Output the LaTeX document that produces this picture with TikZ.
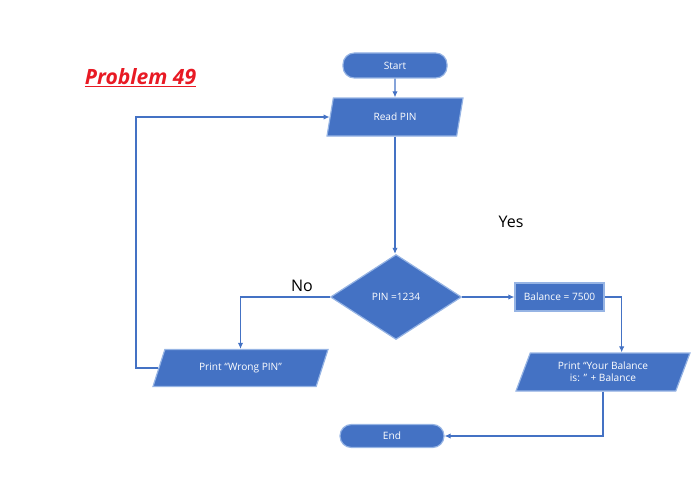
\documentclass[tikz,border=0pt]{standalone}
\usepackage{fontspec}
\setmainfont{Open Sans}
\usetikzlibrary{shapes.geometric,arrows.meta}
\definecolor{boxfill}{RGB}{68,114,196}
\definecolor{boxedge}{RGB}{150,180,228}
\definecolor{conn}{RGB}{68,114,196}
\definecolor{titlered}{RGB}{232,26,36}
\tikzset{
  base/.style={fill=boxfill,draw=boxedge,line width=0.9pt,text=white,font=\fontsize{7.6}{9}\selectfont,align=center,inner sep=1pt},
  term/.style={base,rectangle,rounded corners=8.5pt,minimum width=78pt},
  io/.style={base,trapezium,trapezium stretches body,minimum height=28.5pt},
  proc/.style={base,rectangle,minimum width=66.75pt,minimum height=21pt},
  decision/.style={base,diamond,minimum width=98.25pt,minimum height=63.75pt},
  arr/.style={draw=conn,line width=0.8pt,-{Latex[length=4.5pt,width=4pt]}},
  lbl/.style={font=\fontsize{12}{14}\selectfont,text=black}
}
\begin{document}
\begin{tikzpicture}[x=0.75pt,y=-0.75pt]
\useasboundingbox (0,0) rectangle (699,478);
\node[font=\bfseries\itshape\fontsize{15.8}{18}\selectfont,text=titlered] (title) at (140.5,78) {\underline{Problem 49}};
\node[term,minimum height=18.75pt] (start) at (395,65.5) {Start};
\node[io,minimum width=102pt,trapezium left angle=58.8,trapezium right angle=121.2] (read) at (395,117) {Read PIN};
\node[decision] (dec) at (396,297) {PIN =1234};
\node[proc] (bal) at (559.5,297) {Balance = 7500};
\node[io,minimum width=131.25pt,minimum height=27.75pt,trapezium left angle=46.6,trapezium right angle=133.4] (wrong) at (240.5,368) {Print “Wrong PIN”};
\node[io,minimum width=130.5pt,trapezium left angle=57.7,trapezium right angle=122.3] (yb) at (603,372) {Print “Your Balance\\ is: ” + Balance};
\node[term,minimum height=17.25pt] (end) at (392,436) {End};
\node[lbl] (no) at (302,286) {No};
\node[lbl] (yes) at (511,222) {Yes};
\coordinate (loop) at (136,0);
\draw[arr] (start) -- (read);
\draw[arr] (read.south) -- (read.south |- dec.north);
\draw[arr] (dec.west) -| (wrong.north);
\draw[arr] (dec.east) -- (bal.west);
\draw[arr] (bal.east) -| ([xshift=14pt]yb.north);
\draw[arr] (yb.south) |- (end.east);
\draw[arr] (wrong.west) -- (wrong.west -| loop) |- (read.west);
\end{tikzpicture}
\end{document}
